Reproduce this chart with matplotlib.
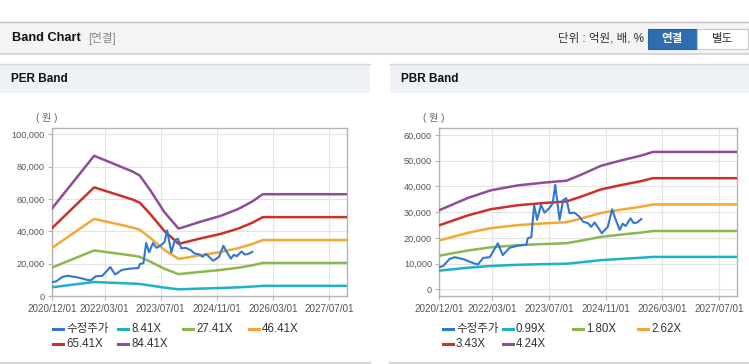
import pandas as pd
import matplotlib
matplotlib.use("Agg")
import matplotlib.pyplot as plt
import matplotlib.dates as mdates
from matplotlib.lines import Line2D
from matplotlib.patches import Rectangle
from matplotlib.ticker import FuncFormatter

plt.rcParams['font.family'] = ['Liberation Sans', 'Noto Sans CJK KR']

# === price (수정주가), shared by both charts ===
price_dates = ["2020-12-01", "2021-01-05", "2021-03-01", "2021-04-15", "2021-07-05", "2021-10-01",
               "2021-11-01", "2021-12-15", "2022-02-10", "2022-04-20", "2022-06-01", "2022-07-28",
               "2022-10-10", "2022-12-20", "2023-01-01", "2023-02-01", "2023-02-25", "2023-03-22",
               "2023-04-25", "2023-05-25", "2023-07-05", "2023-08-03", "2023-08-25", "2023-10-01",
               "2023-11-01", "2023-11-28", "2023-12-25", "2024-02-05", "2024-03-20", "2024-04-20",
               "2024-06-01", "2024-06-28", "2024-07-28", "2024-09-28", "2024-11-18", "2024-12-25",
               "2025-01-15", "2025-02-28", "2025-03-25", "2025-04-20", "2025-06-01", "2025-06-28",
               "2025-07-28", "2025-09-01"]
price = [8600, 9000, 11800, 12500, 11600, 10000,
         9700, 12200, 12500, 17900, 13300, 16100,
         17000, 17300, 19800, 20300, 32800, 27000,
         32800, 29800, 31500, 33400, 40600, 27000,
         34700, 35400, 29600, 29800, 28200, 26300,
         25700, 24300, 26000, 21800, 24300, 31100,
         28200, 23100, 25500, 24600, 27600, 25700,
         26000, 27300]

# === PER band ===
per_dates = ["2020-12-01", "2021-12-01", "2022-06-01", "2022-11-01", "2023-01-01", "2023-04-01",
             "2023-08-01", "2023-12-01", "2024-01-01", "2024-06-01", "2024-12-01", "2025-05-01",
             "2025-09-01", "2025-12-01", "2027-12-01"]
per_labels = ["8.41X", "27.41X", "46.41X", "65.41X", "84.41X"]
per_841 = [5400, 8650, 8120, 7670, 7420, 6530, 5180, 4160, 4210, 4560, 4940, 5360, 5830, 6280, 6280]
per_2741 = [17600, 28180, 26460, 25000, 24190, 21270, 16880, 13570, 13740, 14870, 16110, 17470, 18990, 20460, 20460]
per_4641 = [29800, 47720, 44810, 42340, 40960, 36010, 28590, 22980, 23260, 25180, 27270, 29580, 32160, 34640, 34640]
per_6541 = [42000, 67260, 63150, 59670, 57730, 50760, 40300, 32390, 32780, 35490, 38440, 41690, 45330, 48820, 48820]
per_8441 = [54200, 86800, 81500, 77000, 74500, 65500, 52000, 41800, 42300, 45800, 49600, 53800, 58500, 63000, 63000]

# === PBR band ===
pbr_dates = ["2020-12-01", "2021-08-05", "2022-02-20", "2022-10-10", "2023-05-25", "2023-11-28",
             "2024-04-01", "2024-09-20", "2025-03-12", "2025-09-01", "2025-12-10", "2027-12-01"]
pbr_labels = ["0.99X", "1.80X", "2.62X", "3.43X", "4.24X"]
pbr_099 = [7250, 8380, 9090, 9530, 9790, 9960, 10500, 11330, 11820, 12270, 12600, 12600]
pbr_180 = [13030, 15070, 16340, 17150, 17620, 17910, 18890, 20380, 21270, 22070, 22670, 22670]
pbr_262 = [18970, 21940, 23790, 24960, 25640, 26080, 27500, 29660, 30960, 32130, 33000, 33000]
pbr_343 = [24840, 28720, 31150, 32680, 33570, 34140, 36000, 38830, 40530, 42070, 43200, 43200]
pbr_424 = [30700, 35500, 38500, 40400, 41500, 42200, 44500, 48000, 50100, 52000, 53400, 53400]

tick_dates = ["2020-12-01", "2022-03-01", "2023-07-01", "2024-11-01", "2026-03-01", "2027-07-01"]

band_colors = ["#1eb2c6", "#8cb74f", "#f5a733", "#cc3129", "#8e4d98"]
price_color = "#3277cf"

W, H = 749, 364
fig = plt.figure(figsize=(W / 100, H / 100), dpi=100)


def fx(x):
    return x / W


def fy(y):
    return 1 - y / H


def rect(x0, y0, x1, y1, **kw):
    fig.add_artist(Rectangle((fx(x0), fy(y1)), (x1 - x0) / W, (y1 - y0) / H,
                             transform=fig.transFigure, **kw))


def hline(x0, x1, y, color, lw=1):
    fig.add_artist(Line2D([fx(x0), fx(x1)], [fy(y), fy(y)], color=color, lw=lw,
                          transform=fig.transFigure))


# === page header ===
rect(0, 22, W, 53, facecolor="#f4f4f4", edgecolor="none")
hline(0, W, 22, "#c4c4c4")
hline(0, W, 53.5, "#d8d8d8", lw=1.5)
fig.text(fx(12), fy(38), "Band Chart", fontsize=9.2, fontweight="bold", color="#111", va="center")
fig.text(fx(88), fy(38.5), "[연결]", fontsize=8.3, color="#888", va="center")
fig.text(fx(644), fy(38.5), "단위 : 억원, 배, %", fontsize=8.3, color="#333", va="center", ha="right")
rect(648, 29, 697, 49, facecolor="#2e6db3", edgecolor="#28609f", lw=0.8)
rect(697, 29, 748, 49, facecolor="#ffffff", edgecolor="#c8c8c8", lw=0.8)
fig.text(fx(672.5), fy(39), "연결", fontsize=8.3, fontweight="bold", color="white", ha="center", va="center")
fig.text(fx(722.5), fy(39), "별도", fontsize=8.3, color="#333", ha="center", va="center")

# === panels ===
for (x0, x1, title) in [(0, 370, "PER Band"), (390, W, "PBR Band")]:
    rect(x0, 64, x1, 93, facecolor="#eef1f6", edgecolor="none")
    hline(x0, x1, 64, "#d6d6d6")
    hline(x0, x1, 363, "#d6d6d6", lw=1.5)
    fig.text(fx(x0 + 11), fy(79), title, fontsize=8.5, fontweight="bold", color="#111", va="center")


def draw_band(rect_px, dates, bands, labels, ylim, yticks, legend_x):
    left, top, right, bottom = rect_px
    ax = fig.add_axes([fx(left), fy(bottom), (right - left) / W, (bottom - top) / H])
    ax.set_facecolor("#ffffff")
    d = pd.to_datetime(dates)
    for vals, c in zip(bands, band_colors):
        ax.plot(d, vals, color=c, lw=1.8, solid_joinstyle="round", zorder=3)
    ax.plot(pd.to_datetime(price_dates), price, color=price_color, lw=1.5, zorder=4)

    ax.set_xlim(pd.Timestamp("2020-12-01"), pd.Timestamp("2027-12-01"))
    ax.set_ylim(*ylim)
    ax.set_xticks(pd.to_datetime(tick_dates))
    ax.xaxis.set_major_formatter(mdates.DateFormatter("%Y/%m/%d"))
    ax.set_yticks(yticks)
    ax.yaxis.set_major_formatter(FuncFormatter(lambda v, p: f"{int(v):,}"))
    ax.grid(True, color="#e4e4e4", lw=0.8)
    ax.set_axisbelow(True)
    for s in ax.spines.values():
        s.set_color("#b4b4b4")
        s.set_linewidth(1)
    ax.tick_params(axis="both", colors="#b4b4b4", labelcolor="#555", labelsize=6.6,
                   length=3, width=0.8, pad=2)
    ax.tick_params(axis="x", labelsize=7.1, pad=3)

    fig.text(fx(left - 5), fy(118), "( 원 )", fontsize=7.2, color="#666", ha="center", va="center")

    # legend
    names = ["수정주가"] + labels
    colors = [price_color] + band_colors
    rows = [(0, 329), (1, 329), (2, 329), (3, 329), (0, 344), (1, 344)]
    for (col, y), name, c in zip(rows, names, colors):
        x = legend_x[col]
        fig.add_artist(Line2D([fx(x), fx(x + 10)], [fy(y), fy(y)], color=c, lw=2.2,
                              transform=fig.transFigure))
        fig.text(fx(x + 13), fy(y), name, fontsize=8.3, color="#333", va="center")
    return ax


draw_band((52, 128, 347, 296), per_dates, [per_841, per_2741, per_4641, per_6541, per_8441],
          per_labels, (0, 104000), [0, 20000, 40000, 60000, 80000, 100000], [53, 118, 183, 249])
draw_band((439, 128, 737, 296), pbr_dates, [pbr_099, pbr_180, pbr_262, pbr_343, pbr_424],
          pbr_labels, (-2600, 62700), [0, 10000, 20000, 30000, 40000, 50000, 60000], [443, 503, 573, 638])

fig.savefig("out.png", dpi=100)
